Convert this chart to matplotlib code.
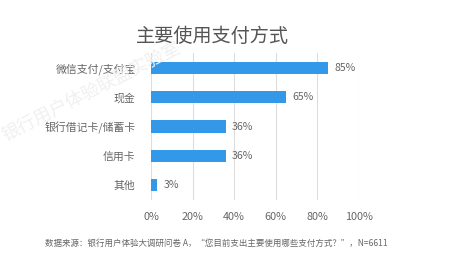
import matplotlib
matplotlib.use("Agg")
from matplotlib import pyplot as plt

plt.rcParams['font.family'] = ['Noto Sans CJK SC', 'DejaVu Sans']

categories = ["微信支付/支付宝", "现金", "银行借记卡/储蓄卡", "信用卡", "其他"]
values = [85, 65, 36, 36, 3]
ticks = [0, 20, 40, 60, 80, 100]

fig = plt.figure(figsize=(4.65, 2.6), dpi=100)
ax = fig.add_axes([151 / 465, 1 - 200 / 260, 208 / 465, 147 / 260])

# faint watermark behind the chart
fig.text(92 / 465, 1 - 92 / 260, "银行用户体验联盟实验室", ha="center", va="center",
         fontsize=13, color="#f0f0f0", rotation=27, zorder=0)

ypos = list(range(len(categories)))
ax.barh(ypos, values, height=0.42, color="#3498e8", zorder=3)
for y, v in zip(ypos, values):
    ax.text(v + 3, y, f"{v}%", va="center", ha="left", fontsize=7.6, color="#666666")

ax.set_xlim(0, 100)
ax.set_ylim(len(categories) - 0.5, -0.5)
ax.set_xticks(ticks)
ax.set_xticklabels([f"{t}%" for t in ticks])
ax.set_yticks(ypos)
ax.set_yticklabels(categories)
ax.tick_params(axis="both", length=0, labelsize=7.8, labelcolor="#666666")
ax.tick_params(axis="y", pad=11)
ax.tick_params(axis="x", pad=9)
ax.grid(axis="x", color="#dddddd", linewidth=0.8, zorder=0)
ax.patch.set_alpha(0)
for s in ax.spines.values():
    s.set_visible(False)

fig.text(212 / 465, 1 - 36 / 260, "主要使用支付方式", ha="center", va="center",
         fontsize=13.8, color="#555555")
fig.text(45 / 465, 1 - 243 / 260,
         "数据来源：银行用户体验大调研问卷 A，“您目前支出主要使用哪些支付方式？”，N=6611",
         ha="left", va="center", fontsize=6.1, color="#666666")

fig.savefig("out.png", dpi=100)
